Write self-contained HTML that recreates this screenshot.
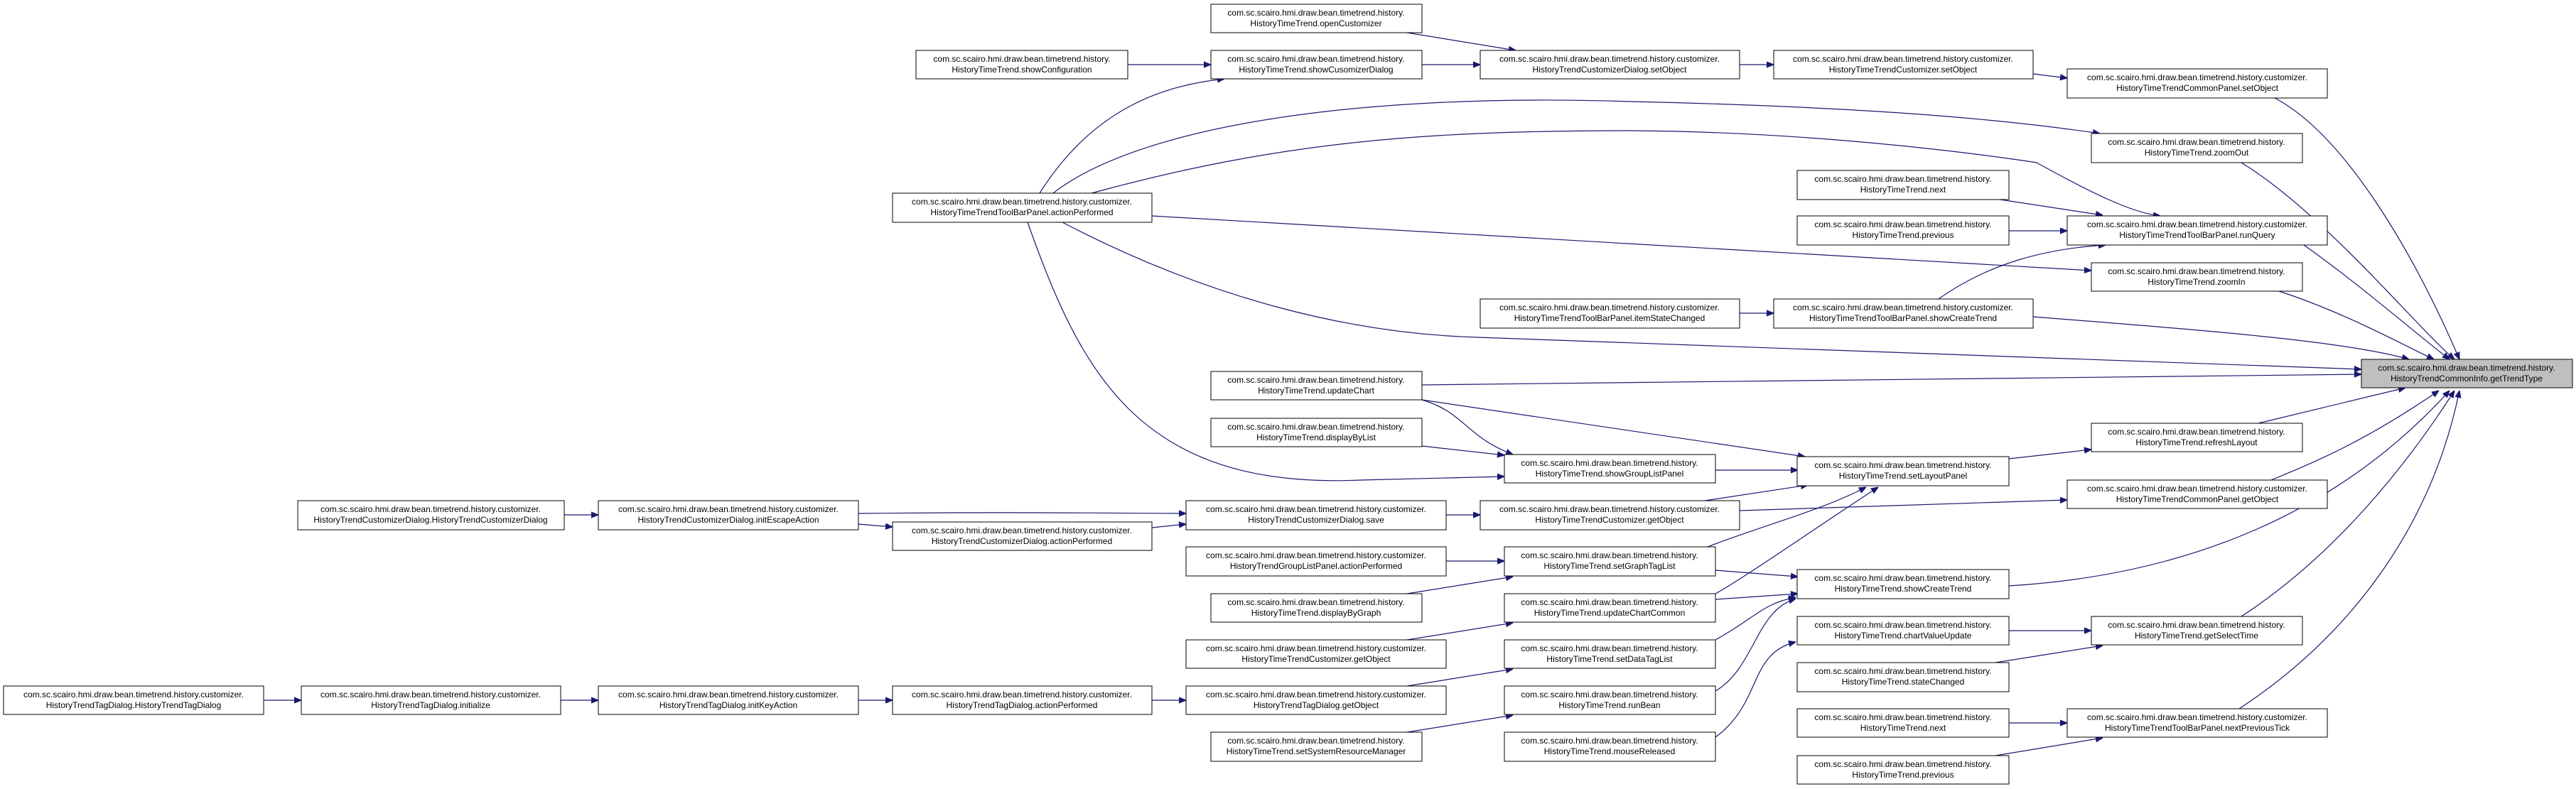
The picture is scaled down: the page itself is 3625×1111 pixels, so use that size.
<!DOCTYPE html>
<html><head><meta charset="utf-8"><style>
html,body{margin:0;padding:0;background:#fff;}
svg{display:block}
text{font-family:"Liberation Sans",sans-serif;font-size:12px;fill:#000;text-anchor:middle}
rect{fill:#fff;stroke:#000;stroke-width:1}
path{fill:none;stroke:#191970;stroke-width:1.2}
</style></head><body>
<svg width="3625" height="1111" viewBox="0 0 3625 1111" xmlns="http://www.w3.org/2000/svg">
<defs><marker id="a" viewBox="0 0 10 10" refX="10" refY="5" markerWidth="10" markerHeight="10" markerUnits="userSpaceOnUse" orient="auto"><path d="M0,1 L10,5 L0,9 Z" style="fill:#191970;stroke:#191970"/></marker></defs>
<g marker-end="url(#a)">
<path d="M1980,46 L2133,71"/>
<path d="M1587,91 L1704,91"/>
<path d="M2001,91 L2083,91"/>
<path d="M2448,91 L2496,91"/>
<path d="M2861,104 L2909,110"/>
<path d="M3201,138 C3300,190 3397,357 3461,506"/>
<path d="M1463,272 C1540,150 1640,120 1723,111"/>
<path d="M1482,272 C1600,180 1900,130 2295,143 C2600,150 2800,165 2955,188"/>
<path d="M1536,272 C1800,200 2000,184 2295,184 C2600,186 2866,229 2866,229 C2940,270 3000,300 3040,304"/>
<path d="M1621,304 L2943,381"/>
<path d="M1446,313 C1520,520 1600,690 1914,676 L2117,671"/>
<path d="M1495,313 C1700,420 1900,470 2080,475 L3323,520"/>
<path d="M2808,280 L2959,303"/>
<path d="M2827,325 L2909,325"/>
<path d="M3242,345 C3320,400 3400,470 3447,506"/>
<path d="M3154,229 C3270,300 3400,460 3454,506"/>
<path d="M3207,410 C3300,440 3390,490 3425,506"/>
<path d="M2448,441 L2496,441"/>
<path d="M2728,421 C2800,370 2880,350 2963,345"/>
<path d="M2861,446 C3100,465 3300,480 3390,506"/>
<path d="M2001,542 L3323,527"/>
<path d="M2001,563 C2060,580 2063,615 2129,640"/>
<path d="M2001,563 L2540,643"/>
<path d="M2001,628 L2117,641"/>
<path d="M2414,662 L2530,662"/>
<path d="M1208,723 C1400,721 1500,722 1669,723"/>
<path d="M1208,738 L1256,742"/>
<path d="M794,725 L842,725"/>
<path d="M1621,743 L1669,738"/>
<path d="M2035,725 L2083,725"/>
<path d="M2399,705 L2544,683"/>
<path d="M2448,719 L2909,704"/>
<path d="M3196,676 C3260,650 3330,620 3432,550"/>
<path d="M3178,596 L3385,546"/>
<path d="M2827,646 L2943,633"/>
<path d="M2035,790 L2117,790"/>
<path d="M1980,836 L2129,812"/>
<path d="M2403,770 C2480,740 2560,720 2626,686"/>
<path d="M2414,803 L2530,812"/>
<path d="M2414,836 C2460,810 2560,740 2643,686"/>
<path d="M2414,844 L2530,836"/>
<path d="M1980,901 L2129,877"/>
<path d="M2414,901 C2470,870 2480,850 2527,841"/>
<path d="M1980,966 L2129,942"/>
<path d="M1621,986 L1669,986"/>
<path d="M2414,973 C2470,940 2470,860 2527,843"/>
<path d="M1980,1031 L2129,1007"/>
<path d="M2414,1038 C2480,990 2460,920 2527,904"/>
<path d="M2827,825 C3074,810 3289,725 3447,550"/>
<path d="M2827,888 L2943,888"/>
<path d="M2808,933 L2959,909"/>
<path d="M3154,868 C3289,780 3390,650 3454,550"/>
<path d="M2827,1018 L2909,1018"/>
<path d="M2808,1064 L2959,1039"/>
<path d="M3151,998 C3300,900 3420,750 3461,550"/>
<path d="M371,986 L424,986"/>
<path d="M789,986 L842,986"/>
<path d="M1208,986 L1256,986"/>
</g>
<g>
<rect x="1704" y="6" width="297" height="40"/><text x="1852" y="22">com.sc.scairo.hmi.draw.bean.timetrend.history.</text><text x="1852" y="37">HistoryTimeTrend.openCustomizer</text>
<rect x="1289" y="71" width="298" height="40"/><text x="1438" y="87">com.sc.scairo.hmi.draw.bean.timetrend.history.</text><text x="1438" y="102">HistoryTimeTrend.showConfiguration</text>
<rect x="1704" y="71" width="297" height="40"/><text x="1852" y="87">com.sc.scairo.hmi.draw.bean.timetrend.history.</text><text x="1852" y="102">HistoryTimeTrend.showCusomizerDialog</text>
<rect x="2083" y="71" width="365" height="40"/><text x="2265" y="87">com.sc.scairo.hmi.draw.bean.timetrend.history.customizer.</text><text x="2265" y="102">HistoryTrendCustomizerDialog.setObject</text>
<rect x="2496" y="71" width="365" height="40"/><text x="2678" y="87">com.sc.scairo.hmi.draw.bean.timetrend.history.customizer.</text><text x="2678" y="102">HistoryTimeTrendCustomizer.setObject</text>
<rect x="2909" y="97" width="366" height="41"/><text x="3092" y="113">com.sc.scairo.hmi.draw.bean.timetrend.history.customizer.</text><text x="3092" y="128">HistoryTimeTrendCommonPanel.setObject</text>
<rect x="2943" y="188" width="297" height="41"/><text x="3091" y="204">com.sc.scairo.hmi.draw.bean.timetrend.history.</text><text x="3091" y="219">HistoryTimeTrend.zoomOut</text>
<rect x="1256" y="272" width="365" height="41"/><text x="1438" y="288">com.sc.scairo.hmi.draw.bean.timetrend.history.customizer.</text><text x="1438" y="303">HistoryTimeTrendToolBarPanel.actionPerformed</text>
<rect x="2529" y="240" width="298" height="41"/><text x="2678" y="256">com.sc.scairo.hmi.draw.bean.timetrend.history.</text><text x="2678" y="271">HistoryTimeTrend.next</text>
<rect x="2529" y="304" width="298" height="41"/><text x="2678" y="320">com.sc.scairo.hmi.draw.bean.timetrend.history.</text><text x="2678" y="335">HistoryTimeTrend.previous</text>
<rect x="2909" y="304" width="366" height="41"/><text x="3092" y="320">com.sc.scairo.hmi.draw.bean.timetrend.history.customizer.</text><text x="3092" y="335">HistoryTimeTrendToolBarPanel.runQuery</text>
<rect x="2943" y="370" width="297" height="40"/><text x="3091" y="386">com.sc.scairo.hmi.draw.bean.timetrend.history.</text><text x="3091" y="401">HistoryTimeTrend.zoomIn</text>
<rect x="2083" y="421" width="365" height="41"/><text x="2265" y="437">com.sc.scairo.hmi.draw.bean.timetrend.history.customizer.</text><text x="2265" y="452">HistoryTimeTrendToolBarPanel.itemStateChanged</text>
<rect x="2496" y="421" width="365" height="41"/><text x="2678" y="437">com.sc.scairo.hmi.draw.bean.timetrend.history.customizer.</text><text x="2678" y="452">HistoryTimeTrendToolBarPanel.showCreateTrend</text>
<rect x="3323" y="506" width="297" height="40" style="fill:#bfbfbf"/><text x="3471" y="522">com.sc.scairo.hmi.draw.bean.timetrend.history.</text><text x="3471" y="537">HistoryTrendCommonInfo.getTrendType</text>
<rect x="1704" y="523" width="297" height="40"/><text x="1852" y="539">com.sc.scairo.hmi.draw.bean.timetrend.history.</text><text x="1852" y="554">HistoryTimeTrend.updateChart</text>
<rect x="1704" y="589" width="297" height="40"/><text x="1852" y="605">com.sc.scairo.hmi.draw.bean.timetrend.history.</text><text x="1852" y="620">HistoryTimeTrend.displayByList</text>
<rect x="2943" y="596" width="297" height="40"/><text x="3091" y="612">com.sc.scairo.hmi.draw.bean.timetrend.history.</text><text x="3091" y="627">HistoryTimeTrend.refreshLayout</text>
<rect x="2117" y="640" width="297" height="40"/><text x="2265" y="656">com.sc.scairo.hmi.draw.bean.timetrend.history.</text><text x="2265" y="671">HistoryTimeTrend.showGroupListPanel</text>
<rect x="2529" y="643" width="298" height="41"/><text x="2678" y="659">com.sc.scairo.hmi.draw.bean.timetrend.history.</text><text x="2678" y="674">HistoryTimeTrend.setLayoutPanel</text>
<rect x="2909" y="676" width="366" height="40"/><text x="3092" y="692">com.sc.scairo.hmi.draw.bean.timetrend.history.customizer.</text><text x="3092" y="707">HistoryTimeTrendCommonPanel.getObject</text>
<rect x="419" y="705" width="375" height="41"/><text x="606" y="721">com.sc.scairo.hmi.draw.bean.timetrend.history.customizer.</text><text x="606" y="736">HistoryTrendCustomizerDialog.HistoryTrendCustomizerDialog</text>
<rect x="842" y="705" width="366" height="41"/><text x="1025" y="721">com.sc.scairo.hmi.draw.bean.timetrend.history.customizer.</text><text x="1025" y="736">HistoryTrendCustomizerDialog.initEscapeAction</text>
<rect x="1669" y="705" width="366" height="41"/><text x="1852" y="721">com.sc.scairo.hmi.draw.bean.timetrend.history.customizer.</text><text x="1852" y="736">HistoryTrendCustomizerDialog.save</text>
<rect x="2083" y="705" width="365" height="41"/><text x="2265" y="721">com.sc.scairo.hmi.draw.bean.timetrend.history.customizer.</text><text x="2265" y="736">HistoryTimeTrendCustomizer.getObject</text>
<rect x="1256" y="735" width="365" height="40"/><text x="1438" y="751">com.sc.scairo.hmi.draw.bean.timetrend.history.customizer.</text><text x="1438" y="766">HistoryTrendCustomizerDialog.actionPerformed</text>
<rect x="1669" y="770" width="366" height="41"/><text x="1852" y="786">com.sc.scairo.hmi.draw.bean.timetrend.history.customizer.</text><text x="1852" y="801">HistoryTrendGroupListPanel.actionPerformed</text>
<rect x="2117" y="770" width="297" height="41"/><text x="2265" y="786">com.sc.scairo.hmi.draw.bean.timetrend.history.</text><text x="2265" y="801">HistoryTimeTrend.setGraphTagList</text>
<rect x="2529" y="802" width="298" height="41"/><text x="2678" y="818">com.sc.scairo.hmi.draw.bean.timetrend.history.</text><text x="2678" y="833">HistoryTimeTrend.showCreateTrend</text>
<rect x="1704" y="836" width="297" height="40"/><text x="1852" y="852">com.sc.scairo.hmi.draw.bean.timetrend.history.</text><text x="1852" y="867">HistoryTimeTrend.displayByGraph</text>
<rect x="2117" y="836" width="297" height="40"/><text x="2265" y="852">com.sc.scairo.hmi.draw.bean.timetrend.history.</text><text x="2265" y="867">HistoryTimeTrend.updateChartCommon</text>
<rect x="2529" y="868" width="298" height="40"/><text x="2678" y="884">com.sc.scairo.hmi.draw.bean.timetrend.history.</text><text x="2678" y="899">HistoryTimeTrend.chartValueUpdate</text>
<rect x="2943" y="868" width="297" height="40"/><text x="3091" y="884">com.sc.scairo.hmi.draw.bean.timetrend.history.</text><text x="3091" y="899">HistoryTimeTrend.getSelectTime</text>
<rect x="1669" y="901" width="366" height="40"/><text x="1852" y="917">com.sc.scairo.hmi.draw.bean.timetrend.history.customizer.</text><text x="1852" y="932">HistoryTimeTrendCustomizer.getObject</text>
<rect x="2117" y="901" width="297" height="40"/><text x="2265" y="917">com.sc.scairo.hmi.draw.bean.timetrend.history.</text><text x="2265" y="932">HistoryTimeTrend.setDataTagList</text>
<rect x="2529" y="933" width="298" height="41"/><text x="2678" y="949">com.sc.scairo.hmi.draw.bean.timetrend.history.</text><text x="2678" y="964">HistoryTimeTrend.stateChanged</text>
<rect x="5" y="966" width="366" height="40"/><text x="188" y="982">com.sc.scairo.hmi.draw.bean.timetrend.history.customizer.</text><text x="188" y="997">HistoryTrendTagDialog.HistoryTrendTagDialog</text>
<rect x="424" y="966" width="365" height="40"/><text x="606" y="982">com.sc.scairo.hmi.draw.bean.timetrend.history.customizer.</text><text x="606" y="997">HistoryTrendTagDialog.initialize</text>
<rect x="842" y="966" width="366" height="40"/><text x="1025" y="982">com.sc.scairo.hmi.draw.bean.timetrend.history.customizer.</text><text x="1025" y="997">HistoryTrendTagDialog.initKeyAction</text>
<rect x="1256" y="966" width="365" height="40"/><text x="1438" y="982">com.sc.scairo.hmi.draw.bean.timetrend.history.customizer.</text><text x="1438" y="997">HistoryTrendTagDialog.actionPerformed</text>
<rect x="1669" y="966" width="366" height="40"/><text x="1852" y="982">com.sc.scairo.hmi.draw.bean.timetrend.history.customizer.</text><text x="1852" y="997">HistoryTrendTagDialog.getObject</text>
<rect x="2117" y="966" width="297" height="40"/><text x="2265" y="982">com.sc.scairo.hmi.draw.bean.timetrend.history.</text><text x="2265" y="997">HistoryTimeTrend.runBean</text>
<rect x="2529" y="998" width="298" height="40"/><text x="2678" y="1014">com.sc.scairo.hmi.draw.bean.timetrend.history.</text><text x="2678" y="1029">HistoryTimeTrend.next</text>
<rect x="2909" y="998" width="366" height="40"/><text x="3092" y="1014">com.sc.scairo.hmi.draw.bean.timetrend.history.customizer.</text><text x="3092" y="1029">HistoryTimeTrendToolBarPanel.nextPreviousTick</text>
<rect x="1704" y="1031" width="297" height="41"/><text x="1852" y="1047">com.sc.scairo.hmi.draw.bean.timetrend.history.</text><text x="1852" y="1062">HistoryTimeTrend.setSystemResourceManager</text>
<rect x="2117" y="1031" width="297" height="41"/><text x="2265" y="1047">com.sc.scairo.hmi.draw.bean.timetrend.history.</text><text x="2265" y="1062">HistoryTimeTrend.mouseReleased</text>
<rect x="2529" y="1064" width="298" height="40"/><text x="2678" y="1080">com.sc.scairo.hmi.draw.bean.timetrend.history.</text><text x="2678" y="1095">HistoryTimeTrend.previous</text>
</g>
</svg>
</body></html>
